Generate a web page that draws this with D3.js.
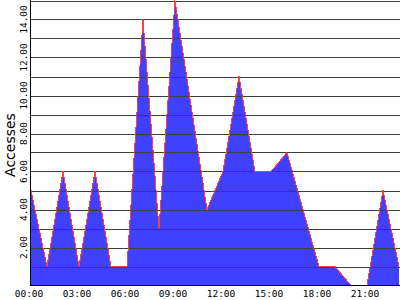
<!DOCTYPE html>
<html lang="en">
<head>
  <meta charset="UTF-8" />
  <title>Accesses per hour</title>
  <style>
  body {
    margin: 0;
    background: #fff;
  }
  svg {
    display: block;
  }
  .grid line {
    stroke: #404040;
    stroke-width: 1;
    shape-rendering: crispEdges;
  }
  .tick-label {
    font-family: 'DejaVu Sans Mono', monospace;
    font-size: 9.5px;
    fill: #000;
  }
  .axis-title {
    font-family: 'DejaVu Sans', sans-serif;
    font-size: 14px;
    fill: #000;
  }
  </style>
</head>
<body>
<div id="chart"></div>
<script src="https://cdn.jsdelivr.net/npm/d3@7"></script>
<script>
  // hourly access counts
  const hours = [0, 1, 2, 3, 4, 5, 6, 7, 8, 9, 10, 11, 12, 13, 14, 15, 16, 17, 18, 19, 20, 21, 22, 23];
  const accesses = [5, 1, 6, 1, 6, 1, 1, 14, 3, 15, 9.5, 4, 6, 11, 6, 6, 7, 4, 1, 1, 0, 0, 5, 1];
  const gridValues = [1, 2, 3, 4, 5, 6, 7, 8, 9, 10, 11, 12, 13, 14, 15];
  const yLabelValues = [2, 4, 6, 8, 10, 12, 14];
  const xLabelHours = [0, 3, 6, 9, 12, 15, 18, 21];

  const width = 400, height = 300;
  const plotLeft = 31, plotRight = 399, plotTop = 0.5, plotBottom = 285.5;

  const data = hours.map((h, i) => ({hour: h, value: accesses[i]}));

  const x = d3.scaleLinear().domain([0, 23]).range([plotLeft, plotRight]);
  const y = d3.scaleLinear().domain([0, 15]).range([plotBottom, plotTop]);

  const svg = d3.select("#chart").append("svg")
    .attr("width", width)
    .attr("height", height);

  const area = d3.area()
    .x(d => x(d.hour))
    .y0(y(0))
    .y1(d => y(d.value));

  svg.append("path")
    .datum(data)
    .attr("d", area)
    .attr("fill", "#4040ff")
    .attr("shape-rendering", "crispEdges");

  // horizontal grid, drawn over the fill
  svg.append("g").attr("class", "grid")
    .selectAll("line")
    .data(gridValues)
    .join("line")
      .attr("x1", plotLeft)
      .attr("x2", width)
      .attr("y1", d => Math.round(y(d)) + 0.5)
      .attr("y2", d => Math.round(y(d)) + 0.5);

  const line = d3.line()
    .x(d => x(d.hour))
    .y(d => y(d.value));

  svg.append("path")
    .datum(data)
    .attr("d", line)
    .attr("fill", "none")
    .attr("stroke", "#ff4040")
    .attr("stroke-width", 1)
    .attr("shape-rendering", "crispEdges");

  // axes lines
  svg.append("line")
    .attr("x1", plotLeft - 0.5).attr("x2", plotLeft - 0.5)
    .attr("y1", 0).attr("y2", plotBottom)
    .attr("stroke", "#000")
    .attr("shape-rendering", "crispEdges");
  svg.append("line")
    .attr("x1", plotLeft - 0.5).attr("x2", width)
    .attr("y1", plotBottom).attr("y2", plotBottom)
    .attr("stroke", "#000")
    .attr("shape-rendering", "crispEdges");

  // y tick labels, rotated
  svg.append("g")
    .selectAll("text")
    .data(yLabelValues)
    .join("text")
      .attr("class", "tick-label")
      .attr("transform", d => `translate(27,${y(d)}) rotate(-90)`)
      .attr("text-anchor", "middle")
      .text(d => d3.format(".2f")(d));

  // x tick labels
  svg.append("g")
    .selectAll("text")
    .data(xLabelHours)
    .join("text")
      .attr("class", "tick-label")
      .attr("x", d => x(d) - 2)
      .attr("y", 297)
      .attr("text-anchor", "middle")
      .text(d => d3.format("02d")(d) + ":00");

  svg.append("text")
    .attr("class", "axis-title")
    .attr("transform", `translate(15,${(plotTop + plotBottom) / 2 + 2}) rotate(-90)`)
    .attr("text-anchor", "middle")
    .text("Accesses");
</script>
</body>
</html>
